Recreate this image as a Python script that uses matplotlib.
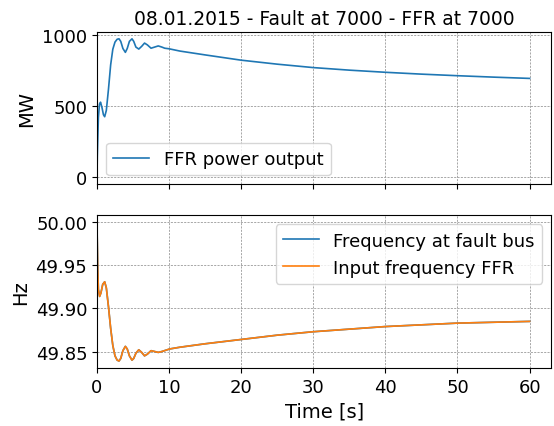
import matplotlib
matplotlib.use('Agg')
import matplotlib.pyplot as plt
from matplotlib.ticker import MultipleLocator, FormatStrFormatter

# FFR power output (MW)
t_power = [0.0, 0.05, 0.2, 0.35, 0.5, 0.7, 0.9, 1.07, 1.3, 1.6, 1.9, 2.2, 2.5, 2.8, 3.06,
           3.3, 3.6, 3.94, 4.2, 4.5, 4.86, 5.1, 5.4, 5.8, 6.2, 6.6, 7.0, 7.5, 8.0, 8.5,
           9.0, 9.4, 10.0, 11.5, 15.0, 20.0, 25.0, 30.0, 35.0, 40.0, 45.0, 50.0, 55.0, 60.0]
p_ffr = [0, 150, 420, 515, 528, 490, 440, 426, 470, 620, 790, 900, 950, 970, 973,
         955, 905, 878, 905, 955, 973, 955, 915, 901, 920, 943, 930, 907, 915, 923,
         915, 907, 903, 887, 860, 823, 795, 771, 753, 738, 725, 714, 704, 695]

# frequency at fault bus / FFR input frequency (Hz)
t_freq = [0.0, 0.03, 0.1, 0.2, 0.37, 0.55, 0.8, 1.07, 1.3, 1.6, 1.9, 2.2, 2.5, 2.8, 3.06,
          3.3, 3.6, 3.94, 4.2, 4.5, 4.86, 5.1, 5.4, 5.8, 6.2, 6.6, 7.0, 7.5, 8.0, 8.5,
          9.0, 10.1, 11.5, 15.0, 20.0, 25.0, 30.0, 35.0, 40.0, 45.0, 50.0, 55.0, 60.0]
f_bus = [50.000, 49.985, 49.950, 49.922, 49.914, 49.918, 49.928, 49.931, 49.924, 49.902, 49.877, 49.857, 49.845, 49.840, 49.839,
         49.842, 49.851, 49.856, 49.853, 49.845, 49.840, 49.842, 49.848, 49.852, 49.849, 49.845, 49.847, 49.851, 49.850, 49.849,
         49.850, 49.853, 49.855, 49.859, 49.864, 49.869, 49.873, 49.876, 49.879, 49.881, 49.883, 49.884, 49.885]
f_ffr = list(f_bus)

plt.rcParams['font.size'] = 13
plt.rcParams['axes.labelsize'] = 14

fig = plt.figure(figsize=(5.54, 4.27), dpi=100)
ax1 = fig.add_subplot(211)
ax2 = fig.add_subplot(212, sharex=ax1)
fig.subplots_adjust(left=0.175, right=0.995, top=0.923, bottom=0.136, hspace=0.204)

grid_kw = dict(linestyle=(0, (2.5, 1.5)), linewidth=0.6, color='#999999')

ax1.plot(t_power, p_ffr, color='tab:blue', linewidth=1.2, label='FFR power output')
ax1.set_ylabel('MW')
ax1.set_title('08.01.2015 - Fault at 7000 - FFR at 7000', fontsize=13.5)
ax1.grid(True, **grid_kw)
ax1.legend(loc='lower left')
plt.setp(ax1.get_xticklabels(), visible=False)

ax2.plot(t_freq, f_bus, color='tab:blue', linewidth=1.2, label='Frequency at fault bus')
ax2.plot(t_freq, f_ffr, color='tab:orange', linewidth=1.2, label='Input frequency FFR')
ax2.set_ylabel('Hz')
ax2.set_xlabel('Time [s]')
ax2.yaxis.set_major_locator(MultipleLocator(0.05))
ax2.yaxis.set_major_formatter(FormatStrFormatter('%.2f'))
ax2.grid(True, **grid_kw)
ax2.legend(loc='upper right')
ax2.set_xlim(0, 63)

fig.savefig('out.png', dpi=100)
